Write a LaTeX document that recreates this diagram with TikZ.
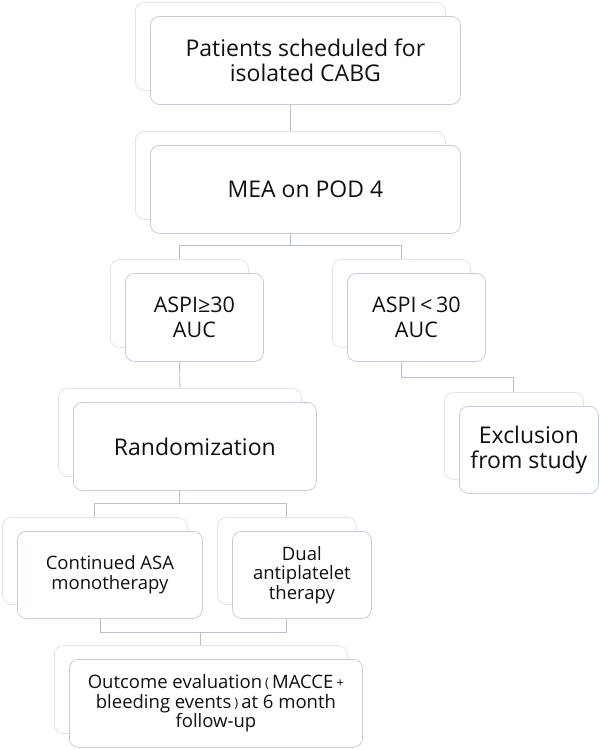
\documentclass[tikz,border=0pt]{standalone}
\usepackage{fontspec}
\setmainfont{Open Sans}
\usetikzlibrary{backgrounds,calc}
\definecolor{frontline}{HTML}{C2CEE0}
\definecolor{backline}{HTML}{E2E2E2}
\definecolor{connline}{HTML}{B3C1D5}
\definecolor{txt}{HTML}{101010}
\newcommand{\smp}[1]{\raisebox{1pt}{\fontsize{13}{13}\selectfont #1}}
\begin{document}
\begin{tikzpicture}[x=1pt,y=-1pt,
  frontbox/.style={draw=frontline, line width=0.8pt, fill=white, rounded corners=9pt,
    inner sep=0pt, align=center, text=txt, anchor=north west},
  backbox/.style={draw=backline, line width=0.8pt, fill=white, rounded corners=9pt,
    inner sep=0pt, anchor=north west},
  wh/.style 2 args={minimum width=#1pt, minimum height=#2pt},
  conn/.style={draw=connline, line width=0.9pt},
  bigtext/.style={font=\fontsize{23}{25}\selectfont},
  midtext/.style={font=\fontsize{21.5}{25}\selectfont},
  smalltext/.style={font=\fontsize{18.5}{19.5}\selectfont}
]
\useasboundingbox (0,0) rectangle (600,750);

% level 1
\node[backbox, wh={310}{88}] (b1b) at (135,2) {};
\node[frontbox, bigtext, wh={310}{88}] (b1) at (150,16) {Patients scheduled for\\isolated CABG};
% level 2
\node[backbox, wh={310}{88}] (b2b) at (135,131) {};
\node[frontbox, bigtext, wh={310}{88}] (b2) at (150,145) {MEA on POD 4};
% level 3
\node[backbox, wh={138}{88}] (aLb) at (110,259) {};
\node[frontbox, midtext, wh={138}{88}] (aL) at (125,273) {ASPI≥30\\AUC};
\node[backbox, wh={138}{88}] (aRb) at (332,259) {};
\node[frontbox, midtext, wh={138}{88}] (aR) at (347,273) {ASPI\,<\,30\\AUC};
% level 4
\node[backbox, wh={243}{88}] (rb) at (58,388) {};
\node[frontbox, bigtext, wh={243}{88}] (r) at (73,402) {Randomization};
\node[backbox, wh={139}{87}] (exb) at (444,392) {};
\node[frontbox, bigtext, wh={139}{87}] (ex) at (459,406) {Exclusion\\from study};
% level 5
\node[backbox, wh={185}{87}] (asab) at (2,517) {};
\node[frontbox, smalltext, wh={185}{87}] (asa) at (17,531) {Continued ASA\\monotherapy};
\node[backbox, wh={139}{87}] (dualb) at (217,517) {};
\node[frontbox, smalltext, wh={139}{87}] (dual) at (232,531) {Dual\\antiplatelet\\therapy};
% level 6
\node[backbox, wh={293}{88}] (outb) at (54,645) {};
\node[frontbox, smalltext, wh={293}{88}] (out) at (69,659)
  {Outcome evaluation\,\smp{(}\,MACCE\,\smp{+}\\bleeding events\,\smp{)}\,at 6 month\\follow-up};

\begin{pgfonlayer}{background}
\draw[conn] (b1b.south) -- (b2b.north);
\draw[conn] (b2b.south) -- ++(0,26) -| (aLb.north);
\draw[conn] (b2b.south) -- ++(0,26) -| (aRb.north);
\draw[conn] (aLb.south) -- (rb.north);
\draw[conn] (aRb.south) -- ++(0,30) -| (exb.north);
\draw[conn] (rb.south) -- ++(0,27) -| (asab.north);
\draw[conn] (rb.south) -- ++(0,27) -| (dualb.north);
\draw[conn] ($(asab.south)+(6,0)$) -- ++(0,28) -| (outb.north);
\draw[conn] (dualb.south) -- ++(0,28) -| (outb.north);
\end{pgfonlayer}
\end{tikzpicture}
\end{document}
